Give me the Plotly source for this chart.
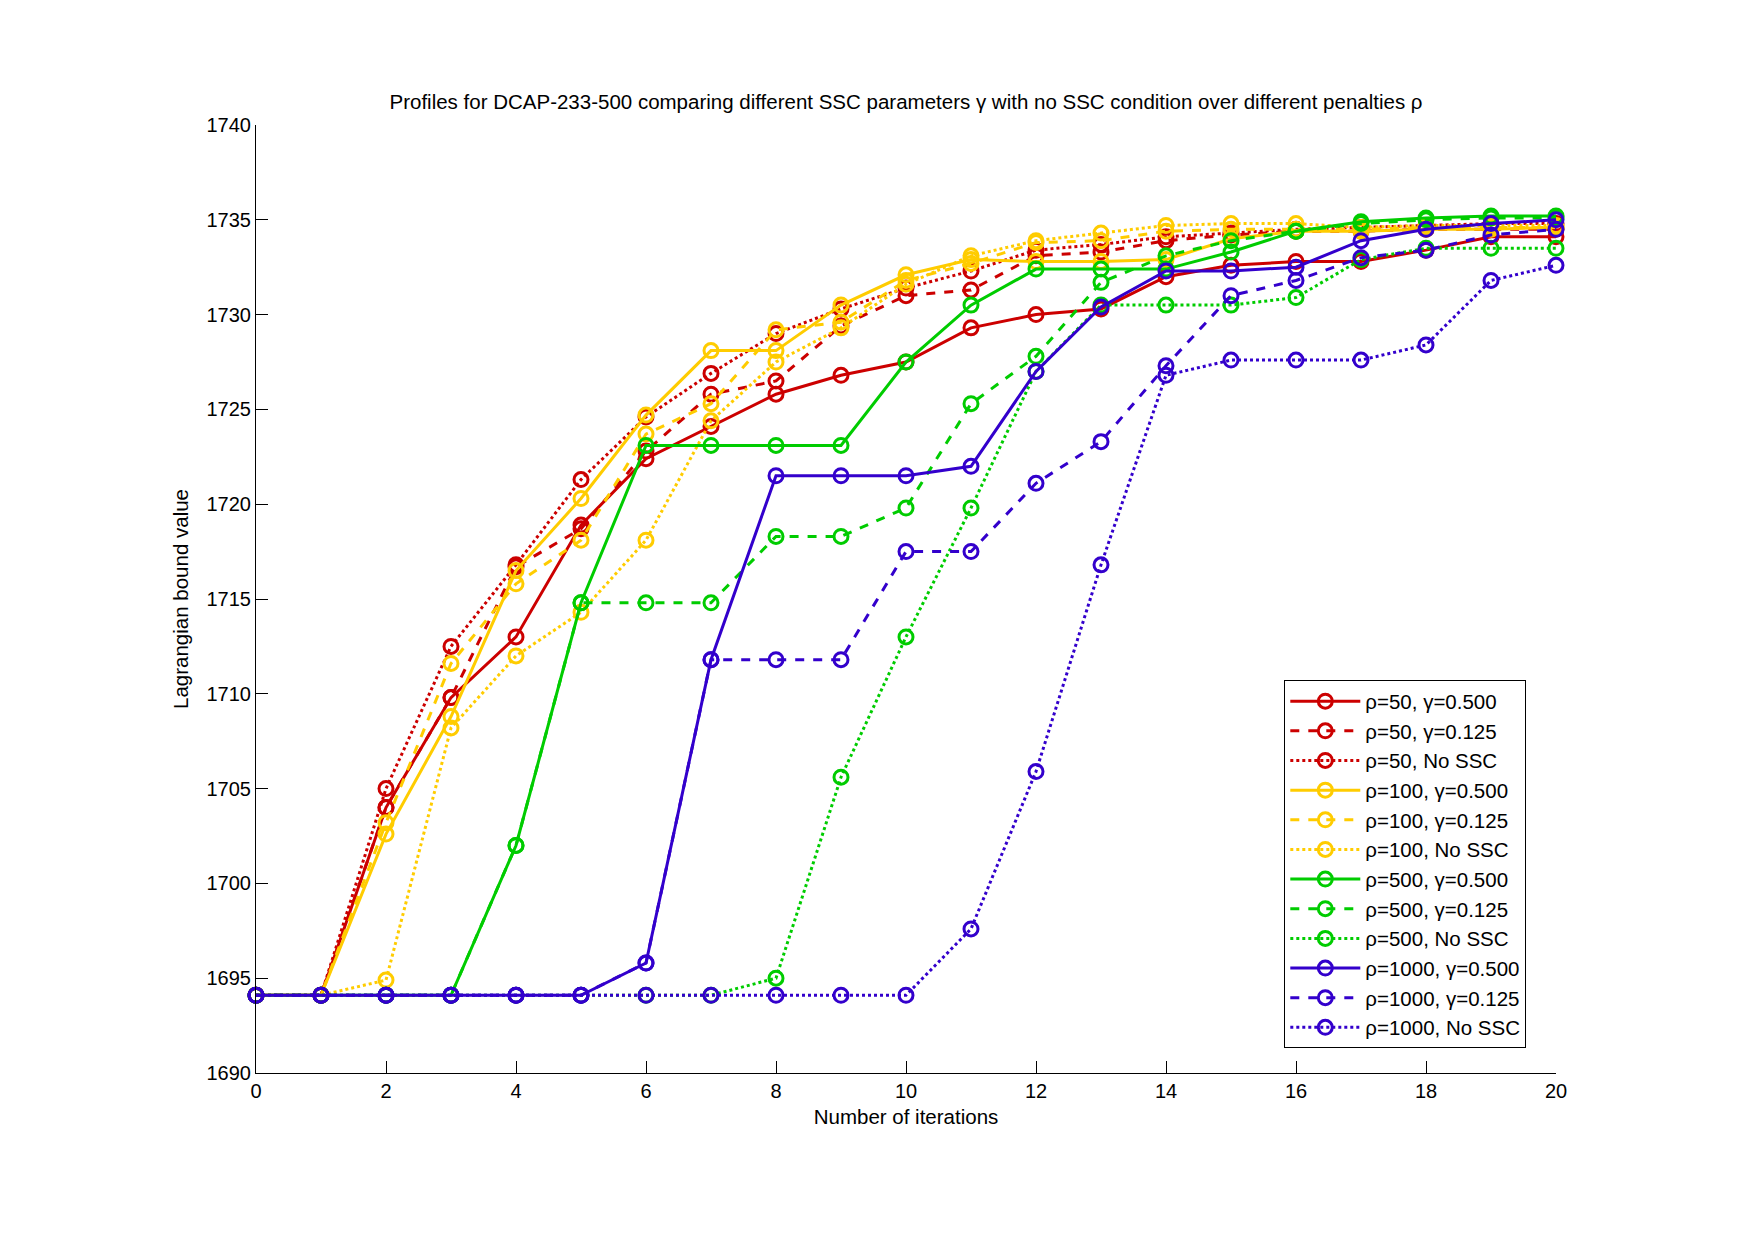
import plotly.graph_objects as go

iterations = list(range(21))
B = 1694.1

rho50_g500 = [B, B, 1704.0, 1709.8, 1713.0, 1718.9, 1722.4, 1724.1, 1725.8, 1726.8, 1727.5, 1729.3, 1730.0, 1730.3, 1732.0, 1732.6, 1732.8, 1732.8, 1733.4, 1734.1, 1734.1]
rho50_g125 = [B, B, 1704.0, 1709.8, 1716.7, 1718.7, 1722.8, 1725.8, 1726.5, 1729.4, 1731.0, 1731.3, 1733.1, 1733.3, 1733.9, 1734.2, 1734.4, 1734.4, 1734.5, 1734.5, 1734.5]
rho50_nossc = [B, B, 1705.0, 1712.5, 1716.8, 1721.3, 1724.6, 1726.9, 1729.0, 1730.3, 1731.4, 1732.3, 1733.4, 1733.7, 1734.1, 1734.3, 1734.5, 1734.6, 1734.7, 1734.8, 1734.8]
rho100_g500 = [B, B, 1702.6, 1708.8, 1716.5, 1720.3, 1724.7, 1728.1, 1728.1, 1730.5, 1732.1, 1732.9, 1732.8, 1732.8, 1732.9, 1734.0, 1734.4, 1734.4, 1734.5, 1734.5, 1734.6]
rho100_g125 = [B, B, 1703.2, 1711.6, 1715.8, 1718.1, 1723.7, 1725.3, 1729.2, 1729.6, 1731.8, 1732.7, 1733.8, 1733.9, 1734.4, 1734.5, 1734.5, 1734.5, 1734.6, 1734.6, 1734.6]
rho100_nossc = [B, B, 1694.9, 1708.2, 1712.0, 1714.3, 1718.1, 1724.4, 1727.5, 1729.3, 1731.6, 1733.1, 1733.9, 1734.3, 1734.7, 1734.8, 1734.8, 1734.6, 1734.7, 1734.7, 1734.7]
rho500_g500 = [B, B, B, B, 1702.0, 1714.8, 1723.1, 1723.1, 1723.1, 1723.1, 1727.5, 1730.5, 1732.4, 1732.4, 1732.4, 1733.3, 1734.4, 1734.9, 1735.1, 1735.2, 1735.2]
rho500_g125 = [B, B, B, B, 1702.0, 1714.8, 1714.8, 1714.8, 1718.3, 1718.3, 1719.8, 1725.3, 1727.8, 1731.7, 1733.1, 1733.9, 1734.4, 1734.8, 1735.0, 1735.1, 1735.1]
rho500_nossc = [B, B, B, B, B, B, B, B, 1695.0, 1705.6, 1713.0, 1719.8, 1727.0, 1730.5, 1730.5, 1730.5, 1730.9, 1732.9, 1733.5, 1733.5, 1733.5]
rho1000_g500 = [B, B, B, B, B, B, 1695.8, 1711.8, 1721.5, 1721.5, 1721.5, 1722.0, 1727.0, 1730.4, 1732.3, 1732.3, 1732.5, 1733.9, 1734.5, 1734.8, 1735.0]
rho1000_g125 = [B, B, B, B, B, B, 1695.8, 1711.8, 1711.8, 1711.8, 1717.5, 1717.5, 1721.1, 1723.3, 1727.3, 1731.0, 1731.8, 1733.0, 1733.4, 1734.2, 1734.5]
rho1000_nossc = [B, B, B, B, B, B, B, B, B, B, B, 1697.6, 1705.9, 1716.8, 1726.8, 1727.6, 1727.6, 1727.6, 1728.4, 1731.8, 1732.6]

series = [
    ("ρ=50, γ=0.500", rho50_g500, "#cc0000", "solid"),
    ("ρ=50, γ=0.125", rho50_g125, "#cc0000", "dash"),
    ("ρ=50, No SSC", rho50_nossc, "#cc0000", "dot"),
    ("ρ=100, γ=0.500", rho100_g500, "#ffcc00", "solid"),
    ("ρ=100, γ=0.125", rho100_g125, "#ffcc00", "dash"),
    ("ρ=100, No SSC", rho100_nossc, "#ffcc00", "dot"),
    ("ρ=500, γ=0.500", rho500_g500, "#00cc00", "solid"),
    ("ρ=500, γ=0.125", rho500_g125, "#00cc00", "dash"),
    ("ρ=500, No SSC", rho500_nossc, "#00cc00", "dot"),
    ("ρ=1000, γ=0.500", rho1000_g500, "#3300cc", "solid"),
    ("ρ=1000, γ=0.125", rho1000_g125, "#3300cc", "dash"),
    ("ρ=1000, No SSC", rho1000_nossc, "#3300cc", "dot"),
]

fig = go.Figure()
for name, vals, color, dash in series:
    fig.add_trace(go.Scatter(
        x=iterations, y=vals, name=name, mode="lines+markers",
        line=dict(color=color, width=3, dash=dash),
        marker=dict(symbol="circle-open", size=14, color=color, line=dict(width=3, color=color)),
        cliponaxis=False,
    ))

font_family = "Liberation Sans, Arial, sans-serif"
fig.update_layout(
    width=1755, height=1240,
    margin=dict(l=256, r=199, t=125, b=167),
    paper_bgcolor="white", plot_bgcolor="white",
    font=dict(family=font_family, size=20, color="black"),
    title=dict(
        text="Profiles for DCAP-233-500 comparing different SSC parameters γ with no SSC condition over different penalties ρ",
        xref="paper", x=0.5, xanchor="center", y=1 - 102 / 1240, yanchor="middle",
        font=dict(size=20.5),
    ),
    xaxis=dict(
        range=[0, 20], dtick=2, tick0=0, showgrid=False, zeroline=False,
        showline=True, linecolor="black", linewidth=1,
        ticks="inside", ticklen=12, tickcolor="black",
        title=dict(text="Number of iterations", standoff=8, font=dict(size=20.5)),
        tickfont=dict(size=20),
    ),
    yaxis=dict(
        range=[1690, 1740], dtick=5, tick0=1690, showgrid=False, zeroline=False,
        showline=True, linecolor="black", linewidth=1,
        ticks="inside", ticklen=12, tickcolor="black",
        title=dict(text="Lagrangian bound value", standoff=12, font=dict(size=20.5)),
        tickfont=dict(size=20),
    ),
    legend=dict(
        x=0.791, y=0.026, xanchor="left", yanchor="bottom",
        bgcolor="white", bordercolor="black", borderwidth=1,
        font=dict(size=20.5), itemwidth=70, tracegroupgap=0,
    ),
    showlegend=True,
)

fig.write_html("out.html")
